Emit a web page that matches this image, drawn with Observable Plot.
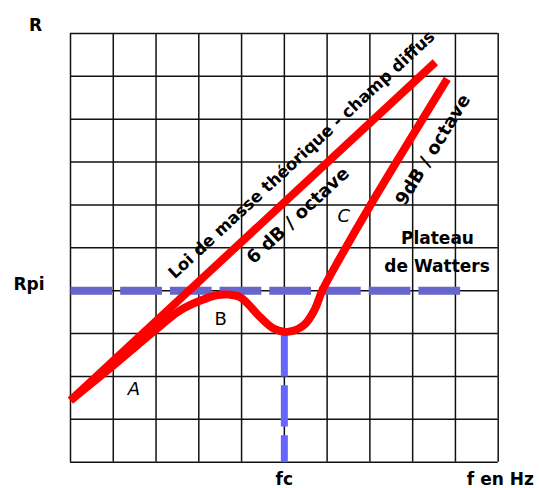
<!DOCTYPE html>
<html>
<head>
<meta charset="utf-8">
<script src="https://cdn.jsdelivr.net/npm/d3@7"></script>
<script src="https://cdn.jsdelivr.net/npm/@observablehq/plot@0.6"></script>
<style>
  html, body { margin: 0; padding: 0; background: #fff; }
</style>
</head>
<body>
<div id="chart"></div>
<script>
// Grid positions (both axes run 0..10 in grid units)
const gridX = [0, 1, 2, 3, 4, 5, 6, 7, 8, 9, 10];
const gridY = [0, 1, 2, 3, 4, 5, 6, 7, 8, 9, 10];

// "Loi de masse théorique – champ diffus" (6 dB / octave) straight line
const massX = [0, 8.53];
const massY = [1.44, 9.33];

// Real curve: A (mass law), B (plateau bump), dip at fc, C (9 dB / octave)
const curveX = [0, 1.005, 2.03, 2.53, 3.04, 3.44, 3.69, 3.97, 4.44, 4.75, 5.07, 5.45, 5.70, 5.89, 6.31, 7.01, 8.81];
const curveY = [1.44, 2.26, 3.12, 3.52, 3.77, 3.90, 3.91, 3.85, 3.38, 3.12, 3.04, 3.19, 3.54, 4.01, 4.78, 5.99, 8.94];

// Plateau de Watters (Rpi level) and critical frequency fc
const rpi = 4;
const plateauX = [0, 9.12];
const fc = 5;
const fcY = [2.96, 0];

// Tick labels
const yTicks = [rpi];
const yTickLabels = ["Rpi"];
const xTicks = [fc];
const xTickLabels = ["fc"];

// Annotations
const rotatedLabels = [
  {text: "Loi de masse théorique - champ diffus", x: 5.405, y: 7.17, rotate: -42.8, size: 16.5},
  {text: "6 dB / octave", x: 5.32, y: 5.755, rotate: -43, size: 18},
  {text: "9dB / octave", x: 8.476, y: 7.29, rotate: -58.5, size: 18}
];
const letterLabels = [
  {text: "A", x: 1.48, y: 1.70, style: "italic"},
  {text: "B", x: 3.51, y: 3.33, style: "normal"},
  {text: "C", x: 6.39, y: 5.73, style: "italic"}
];
const boldLabels = [
  {text: "Plateau", x: 8.58, y: 5.22},
  {text: "de Watters", x: 8.57, y: 4.56},
  {text: "R", x: -0.818, y: 10.175},
  {text: "f en Hz", x: 10.05, y: -0.41}
];

const font = "DejaVu Sans";

const chart = Plot.plot({
  width: 539,
  height: 488,
  marginLeft: 70,
  marginRight: 41.3,
  marginTop: 33,
  marginBottom: 26.3,
  x: {domain: [0, 10]},
  y: {domain: [0, 10]},
  style: {fontFamily: font, background: "#fff", color: "#000", overflow: "visible"},
  marks: [
    Plot.ruleX(gridX, {stroke: "#111", strokeWidth: 1.5}),
    Plot.ruleY(gridY, {stroke: "#111", strokeWidth: 1.5}),
    Plot.line(plateauX.map(x => ({x, y: rpi})), {
      x: "x", y: "y", stroke: "#6666cc", strokeWidth: 8,
      strokeDasharray: "41.7,8", strokeLinecap: "butt"
    }),
    Plot.line(fcY.map(y => ({x: fc, y})), {
      x: "x", y: "y", stroke: "#6666ff", strokeWidth: 7,
      strokeDasharray: "41.3,8.7", strokeLinecap: "butt"
    }),
    Plot.line(massX.map((x, i) => ({x, y: massY[i]})), {
      x: "x", y: "y", stroke: "#ff0000", strokeWidth: 8, strokeLinecap: "butt"
    }),
    Plot.line(curveX.map((x, i) => ({x, y: curveY[i]})), {
      x: "x", y: "y", stroke: "#ff0000", strokeWidth: 8, strokeLinecap: "butt",
      curve: "catmull-rom"
    }),
    ...rotatedLabels.map(d => Plot.text([d], {
      x: "x", y: "y", text: "text", rotate: d.rotate, fontSize: d.size,
      fontWeight: "bold", fill: "#000", fontFamily: font
    })),
    ...letterLabels.map(d => Plot.text([d], {
      x: "x", y: "y", text: "text", fontSize: 18, fontStyle: d.style,
      fill: "#000", fontFamily: font
    })),
    Plot.text(boldLabels, {
      x: "x", y: "y", text: "text", fontSize: 17, fontWeight: "bold",
      fill: "#000", fontFamily: font
    }),
    Plot.axisY(yTicks, {
      tickFormat: (d, i) => yTickLabels[i], tickSize: 0, tickPadding: 26,
      fontSize: 17, fontWeight: "bold", dy: -6, label: null, fill: "#000"
    }),
    Plot.axisX(xTicks, {
      tickFormat: (d, i) => xTickLabels[i], tickSize: 0, tickPadding: 10.5,
      fontSize: 17, fontWeight: "bold", label: null, fill: "#000"
    })
  ]
});
document.getElementById("chart").appendChild(chart);
</script>
</body>
</html>
